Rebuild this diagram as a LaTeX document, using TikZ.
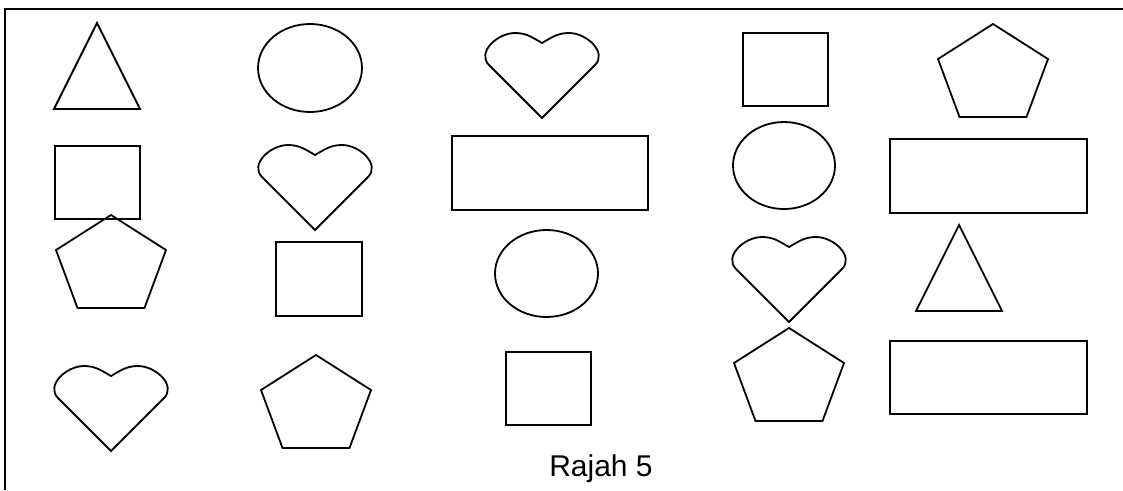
\documentclass[tikz,border=0pt]{standalone}
\usepackage{fontspec}
\setmainfont{Liberation Sans}
\usepackage{tikz}

\begin{document}
\begin{tikzpicture}[x=1pt, y=1pt,
          shp/.style={draw=black, line width=1.8pt},
          heartpic/.pic={\draw[shp] (0,-85) -- (-53,-32)
              to[out=135, in=180, looseness=1.1] (-27,0)
              to[out=0, in=150] (0,-10)
              to[out=30, in=180] (27,0)
              to[out=0, in=45, looseness=1.1] (53,-32) -- cycle;},
          pentpic/.pic={\draw[shp] (0,0) -- (55,-35) -- (33.5,-93)
              -- (-33.5,-93) -- (-55,-35) -- cycle;},
          tripic/.pic={\draw[shp] (0,0) -- (43,-86) -- (-43,-86) -- cycle;},
          caption/.style={font=\fontsize{30}{36}\selectfont, anchor=base}
        ]
        \useasboundingbox (0,0) rectangle (1123,-490);

        % frame (open at right and bottom)
        \draw[shp] (5,-490) -- (5,-9) -- (1123,-9);

        % row 1
        \pic (tri1)   at (97,-23)   {tripic};
        \draw[shp] (310,-68) ellipse [x radius=52pt, y radius=44pt];
        \pic (heart1) at (542,-33)  {heartpic};
        \draw[shp] (743,-33) rectangle (828,-106);
        \pic (pent1)  at (993,-24)  {pentpic};

        % row 2
        \draw[shp] (55,-146) rectangle (140,-219);
        \pic (heart2) at (315,-145) {heartpic};
        \draw[shp] (452,-136) rectangle (648,-210);
        \draw[shp] (784,-165.5) ellipse [x radius=51pt, y radius=43.5pt];
        \draw[shp] (890,-139) rectangle (1087,-213);

        % row 3
        \pic (pent2)  at (111,-215) {pentpic};
        \draw[shp] (276,-242) rectangle (362,-316);
        \draw[shp] (546.5,-273.5) ellipse [x radius=51.5pt, y radius=43.5pt];
        \pic (heart3) at (789,-237) {heartpic};
        \pic (tri2)   at (959,-225) {tripic};

        % row 4
        \pic (heart4) at (111,-366) {heartpic};
        \pic (pent3)  at (316,-355) {pentpic};
        \draw[shp] (506,-352) rectangle (591,-425);
        \pic (pent4)  at (789,-328) {pentpic};
        \draw[shp] (890,-341) rectangle (1087,-414);

        \node[caption] (rajah) at (601,-476) {Rajah 5};
      \end{tikzpicture}
\end{document}
